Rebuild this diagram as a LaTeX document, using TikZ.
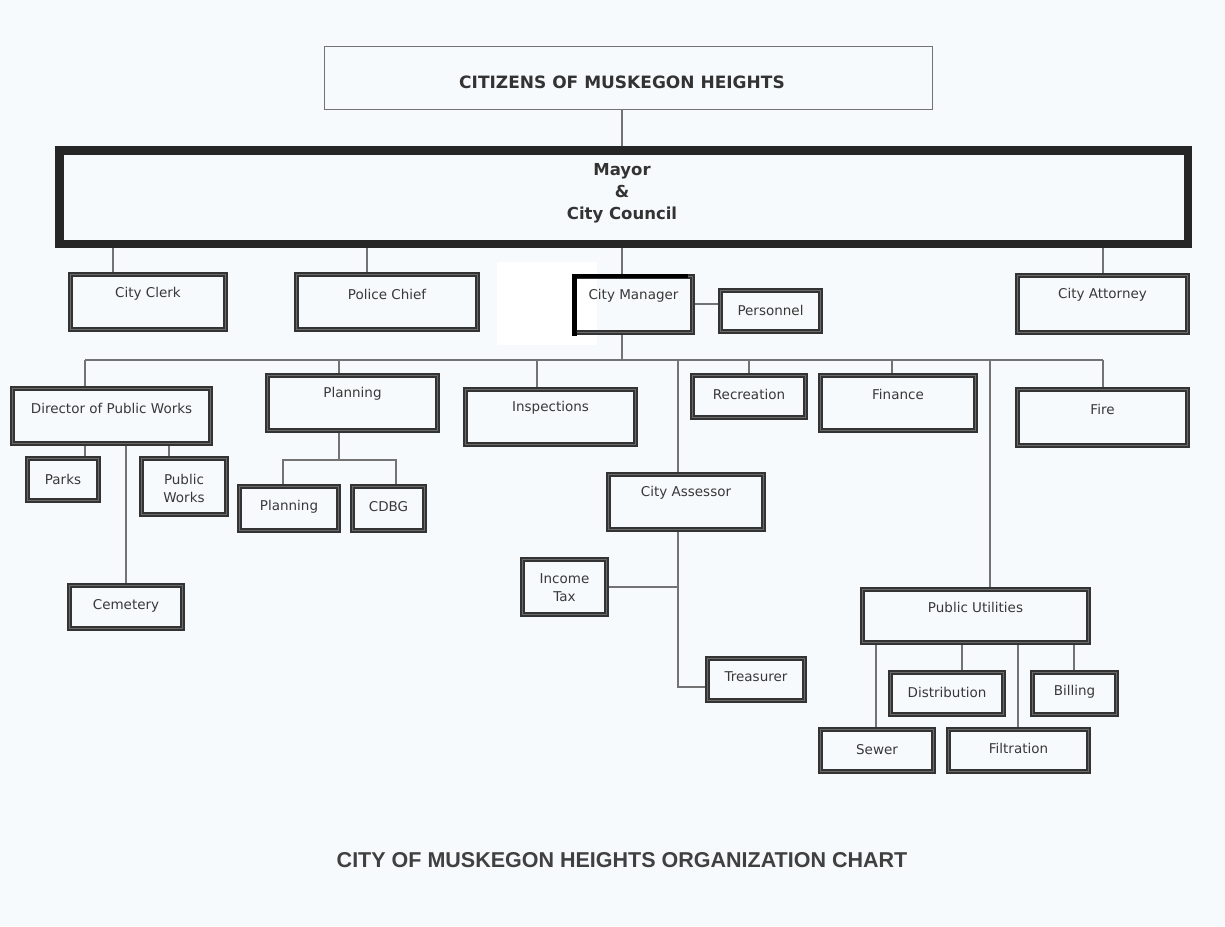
\documentclass[tikz,border=0pt]{standalone}
\usepackage{fontspec}
\setmainfont{DejaVu Sans}
\newfontfamily\footfont{Liberation Sans}
\pgfdeclarelayer{background}
\pgfsetlayers{background,main}
\tikzset{
  box/.style={draw=black!80, line width=2.2pt, double=black!58, double distance=0.9pt, inner sep=0pt},
  bigbox/.style={draw=black!85, line width=8.5pt, inner sep=0pt},
  topbox/.style={draw=black!55, line width=1.2pt, inner sep=0pt},
  lbl/.style={font=\fontsize{13.5}{18}\selectfont, text=black!78, align=center, inner sep=0pt},
  conn/.style={draw=black!55, line width=1.3pt},
}
\newcommand\obox[7]{%
  \node[box, minimum width={#4-#2-5.3}, minimum height={#5-#3-5.3}] (#1) at ({(#2+#4)/2},{(#3+#5)/2}) {};
  \node[lbl] (#1-t) at ({(#2+#4)/2},{#3+#7}) {#6};}
\begin{document}
\begin{tikzpicture}[x=1pt,y=-1pt]
\begin{pgfonlayer}{background}
\fill[fill={rgb,255:red,247;green,250;blue,252}] (0,0) rectangle (1225,926);
\fill[white] (497,262) rectangle (597,345);
\end{pgfonlayer}
\useasboundingbox (0,0) rectangle (1225,926);

% top
\node[topbox, minimum width=608, minimum height=63] (cit) at (628.5,78) {};
\node[font=\bfseries\fontsize{17}{20}\selectfont, text=black!80] (cit-t) at (622,82) {CITIZENS OF MUSKEGON HEIGHTS};
\node[bigbox, minimum width=1128.5, minimum height=93.5] (mayor) at (623.5,197) {};
\node[font=\bfseries\fontsize{16.5}{22}\selectfont, text=black!80, align=center] (mayor-t) at (622,193) {Mayor\\\&\\City Council};

% second row
\obox{clerk}{68}{272}{228}{332}{City Clerk}{22}
\obox{police}{294}{272}{480}{332}{Police Chief}{22}
\obox{cm}{572}{274}{695}{335}{City Manager}{22}
\draw[black, line width=4.5pt] (574.5,336) -- (574.5,276) -- (688,276);
\obox{pers}{718}{288}{823}{334}{Personnel}{22}
\obox{atty}{1015}{273}{1190}{335}{City Attorney}{22}

% third row
\obox{dpw}{10}{386}{213}{446}{Director of Public Works}{22}
\obox{plan}{265}{373}{440}{433}{Planning}{21}
\obox{insp}{463}{387}{638}{447}{Inspections}{21}
\obox{rec}{690}{373}{808}{420}{Recreation}{21}
\obox{fin}{818}{373}{978}{433}{Finance}{21}
\obox{fire}{1015}{387}{1190}{448}{Fire}{22}

% lower
\obox{parks}{25}{456}{101}{503}{Parks}{23}
\obox{pw}{139}{456}{229}{517}{Public\\Works}{32}
\obox{cem}{67}{583}{185}{631}{Cemetery}{23}
\obox{plansub}{237}{484}{341}{533}{Planning}{23}
\obox{cdbg}{350}{484}{427}{533}{CDBG}{23}
\obox{assess}{606}{472}{766}{532}{City Assessor}{21}
\obox{tax}{520}{557}{609}{617}{Income\\Tax}{31}
\obox{treas}{705}{656}{807}{703}{Treasurer}{21}
\obox{pu}{860}{587}{1091}{645}{Public Utilities}{20}
\obox{dist}{888}{670}{1006}{717}{Distribution}{22}
\obox{bill}{1030}{670}{1119}{717}{Billing}{22}
\obox{sewer}{818}{727}{936}{774}{Sewer}{23}
\obox{filt}{946}{727}{1091}{774}{Filtration}{21}

\node[font=\footfont\bfseries\fontsize{21.5}{24}\selectfont, text=black!75] (foot) at (622,860) {CITY OF MUSKEGON HEIGHTS ORGANIZATION CHART};

\coordinate (busL) at (85,360);
\coordinate (busR) at (1103,360);

\begin{pgfonlayer}{background}
\draw[conn] (cit.south -| 622,0) -- (mayor.north -| 622,0);
\draw[conn] (mayor.south -| 113,0) -- (clerk.north -| 113,0);
\draw[conn] (mayor.south -| 367,0) -- (police.north -| 367,0);
\draw[conn] (mayor.south -| 622,0) -- (cm.north -| 622,0);
\draw[conn] (mayor.south -| 1103,0) -- (atty.north -| 1103,0);
\draw[conn] (cm.east |- 0,304) -- (pers.west |- 0,304);
\draw[conn] (cm.south -| 622,0) -- (busL -| 622,0);
\draw[conn] (busL) -- (busR);
\draw[conn] (busL) -- (dpw.north -| busL);
\draw[conn] (busL -| 339,0) -- (plan.north -| 339,0);
\draw[conn] (busL -| 537,0) -- (insp.north -| 537,0);
\draw[conn] (busL -| 678,0) -- (assess.north -| 678,0);
\draw[conn] (busL -| 749,0) -- (rec.north -| 749,0);
\draw[conn] (busL -| 892,0) -- (fin.north -| 892,0);
\draw[conn] (busL -| 990,0) -- (pu.north -| 990,0);
\draw[conn] (busR) -- (fire.north -| busR);
% public works
\draw[conn] (dpw.south -| 85,0) -- (parks.north -| 85,0);
\draw[conn] (dpw.south -| 169,0) -- (pw.north -| 169,0);
\draw[conn] (dpw.south -| 126,0) -- (cem.north -| 126,0);
% planning
\draw[conn] (plan.south -| 339,0) -- (339,460);
\draw[conn] (plansub.north -| 283,0) -- (283,460) -- (396,460) -- (cdbg.north -| 396,0);
% assessor
\draw[conn] (assess.south -| 678,0) -- (678,687) -- (treas.west |- 0,687);
\draw[conn] (tax.east) -- (tax.east -| 678,0);
% utilities
\draw[conn] (pu.south -| 876,0) -- (sewer.north -| 876,0);
\draw[conn] (pu.south -| 962,0) -- (dist.north -| 962,0);
\draw[conn] (pu.south -| 1018,0) -- (filt.north -| 1018,0);
\draw[conn] (pu.south -| 1074,0) -- (bill.north -| 1074,0);
\end{pgfonlayer}
\end{tikzpicture}
\end{document}
